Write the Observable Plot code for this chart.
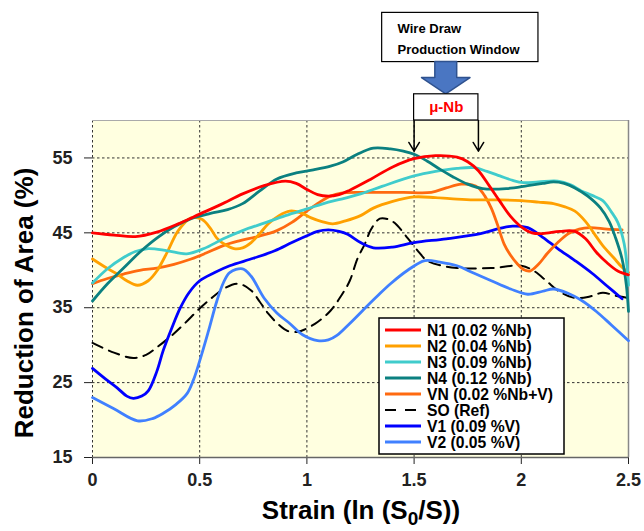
<!DOCTYPE html>
<html><head><meta charset="utf-8">
<script src="https://cdn.jsdelivr.net/npm/d3@7"></script>
<script src="https://cdn.jsdelivr.net/npm/@observablehq/plot@0.6"></script>
<style>
body{margin:0;background:#fff;}
#chart svg{display:block;}
</style></head><body><div id="chart"></div>
<script>
// ---- data: [strain, reduction of area %] ----
const N1 = [[0,45],[0.1,44.7],[0.2,44.5],[0.3,45.1],[0.4,46.2],[0.5,47.5],[0.6,48.8],[0.7,50.2],[0.8,51.3],[0.9,51.9],[0.95,51.6],[1.0,50.8],[1.05,50.1],[1.1,49.9],[1.15,50.1],[1.2,50.7],[1.3,52.2],[1.4,53.8],[1.5,54.9],[1.6,55.3],[1.7,55.1],[1.75,54.5],[1.8,53.3],[1.85,51.3],[1.9,49.2],[1.95,47.2],[2.0,45.8],[2.05,45.0],[2.1,44.9],[2.18,45.2],[2.25,45.2],[2.3,44.2],[2.35,42.4],[2.4,41.0],[2.45,39.9],[2.5,39.4]];
const N2 = [[0,41.5],[0.06,40.4],[0.115,39.5],[0.16,38.6],[0.21,38.0],[0.26,38.6],[0.3,39.9],[0.35,42.5],[0.4,45.3],[0.46,47.0],[0.51,46.8],[0.55,45.6],[0.58,44.3],[0.62,43.4],[0.66,42.9],[0.7,43.0],[0.74,43.7],[0.78,44.9],[0.82,46.2],[0.87,47.3],[0.92,47.9],[0.97,47.7],[1.02,47.0],[1.07,46.5],[1.12,46.2],[1.18,46.6],[1.25,47.3],[1.31,48.3],[1.4,49.2],[1.5,49.8],[1.6,49.7],[1.7,49.5],[1.78,49.4],[1.9,49.4],[2.0,49.3],[2.08,49.1],[2.15,48.9],[2.2,48.5],[2.25,47.9],[2.3,46.5],[2.34,44.9],[2.38,43.3],[2.43,41.7],[2.47,40.4],[2.5,39.7]];
const N3 = [[0,38.3],[0.07,40.2],[0.145,41.7],[0.2,42.5],[0.26,42.9],[0.35,42.6],[0.44,42.2],[0.52,42.9],[0.61,44.2],[0.7,45.3],[0.8,46.3],[0.9,47.3],[1.0,48.2],[1.1,49.1],[1.16,49.5],[1.25,50.2],[1.35,51.2],[1.5,52.6],[1.6,53.2],[1.7,53.6],[1.78,53.7],[1.84,53.2],[1.9,52.6],[1.96,52.0],[2.01,51.7],[2.08,51.8],[2.17,51.9],[2.23,51.4],[2.28,50.6],[2.33,50.0],[2.38,49.3],[2.42,47.8],[2.45,46.4],[2.48,43.5],[2.5,38]];
const N4 = [[0,35.9],[0.07,38.2],[0.145,40.3],[0.22,42.4],[0.3,44.3],[0.38,45.8],[0.46,46.9],[0.55,47.6],[0.63,48.1],[0.7,48.9],[0.78,50.6],[0.86,52.2],[0.95,53.0],[1.03,53.4],[1.11,53.9],[1.17,54.5],[1.235,55.5],[1.31,56.3],[1.39,56.2],[1.45,55.9],[1.5,55.5],[1.56,54.6],[1.62,53.5],[1.68,52.5],[1.75,51.5],[1.82,50.9],[1.93,50.9],[2.03,51.3],[2.1,51.6],[2.15,51.8],[2.2,51.6],[2.25,51.0],[2.31,49.9],[2.37,48.3],[2.41,46.5],[2.44,44.3],[2.47,41.5],[2.49,38],[2.5,34.5]];
const VN = [[0,38.2],[0.07,38.9],[0.145,39.5],[0.22,40.0],[0.3,40.3],[0.38,40.8],[0.46,41.5],[0.53,42.3],[0.61,43.3],[0.68,43.9],[0.77,44.5],[0.86,45.3],[0.93,46.4],[1.0,47.9],[1.06,49.1],[1.11,49.9],[1.16,50.3],[1.25,50.4],[1.35,50.4],[1.45,50.4],[1.58,50.4],[1.65,51.0],[1.72,51.5],[1.77,51.4],[1.8,51.0],[1.83,49.9],[1.86,48.3],[1.89,46.0],[1.92,43.5],[1.95,42.0],[1.98,40.9],[2.01,40.1],[2.04,39.9],[2.08,40.8],[2.12,42.2],[2.17,43.7],[2.22,44.9],[2.27,45.5],[2.32,45.7],[2.4,45.5],[2.47,45.4]];
const SO = [[0,30.3],[0.1,29.0],[0.19,28.3],[0.25,28.7],[0.3,29.7],[0.37,31.3],[0.43,32.9],[0.5,34.9],[0.56,36.4],[0.61,37.5],[0.68,38.2],[0.74,37.3],[0.78,35.8],[0.82,34.2],[0.87,32.7],[0.91,31.9],[0.96,31.8],[0.99,32.1],[1.05,33.1],[1.11,34.6],[1.16,36.6],[1.2,38.6],[1.235,41.5],[1.27,43.5],[1.3,45.5],[1.34,46.9],[1.38,46.8],[1.41,46.3],[1.47,44.3],[1.52,42.5],[1.56,41.3],[1.63,40.6],[1.7,40.3],[1.86,40.3],[2.0,40.6],[2.06,39.9],[2.12,38.5],[2.17,37.3],[2.25,36.3],[2.32,36.5],[2.38,37.0],[2.44,36.6],[2.5,36.3]];
const V1 = [[0,26.9],[0.06,25.5],[0.115,24.3],[0.16,23.2],[0.19,22.9],[0.23,23.2],[0.26,23.9],[0.3,26.5],[0.33,29.3],[0.37,32.3],[0.41,35.0],[0.45,37.0],[0.5,38.6],[0.57,39.7],[0.64,40.6],[0.75,41.6],[0.85,42.6],[0.93,43.7],[1.0,44.6],[1.05,45.2],[1.1,45.4],[1.15,45.2],[1.19,44.8],[1.25,43.7],[1.31,43.0],[1.4,43.1],[1.5,43.7],[1.65,44.2],[1.81,44.9],[1.9,45.6],[1.96,45.9],[2.03,45.7],[2.1,44.4],[2.17,42.9],[2.25,41.3],[2.33,39.6],[2.4,37.9],[2.47,36.2]];
const V2 = [[0,23.0],[0.1,21.5],[0.21,19.9],[0.28,20.2],[0.33,20.9],[0.39,22.1],[0.44,23.5],[0.47,25.3],[0.5,27.9],[0.54,31.8],[0.58,35.9],[0.61,38.3],[0.64,39.7],[0.7,40.2],[0.74,39.2],[0.8,36.3],[0.86,34.3],[0.92,32.9],[0.98,31.4],[1.05,30.6],[1.1,30.7],[1.14,31.3],[1.2,32.9],[1.28,35.2],[1.33,36.6],[1.39,38.2],[1.47,40.0],[1.55,41.3],[1.62,41.1],[1.7,40.6],[1.78,39.6],[1.86,38.6],[1.95,37.5],[2.03,36.8],[2.1,37.2],[2.15,37.5],[2.22,36.9],[2.28,36.0],[2.35,34.5],[2.42,32.7],[2.5,30.6]];

const seriesKeys   = ["N1","N2","N3","N4","VN","SO","V1","V2"];
const seriesLabels = ["N1 (0.02 %Nb)","N2 (0.04 %Nb)","N3 (0.09 %Nb)","N4 (0.12 %Nb)","VN (0.02 %Nb+V)","SO (Ref)","V1 (0.09 %V)","V2 (0.05 %V)"];
const seriesData   = [N1, N2, N3, N4, VN, SO, V1, V2];
const seriesColors = ["#FF0000","#FFA000","#40CCCC","#0B8080","#FF6A10","#000000","#0000FF","#4080FF"];

const xTicks = [0, 0.5, 1, 1.5, 2, 2.5];
const yTicks = [15, 25, 35, 45, 55];
const xGrid = [0, 0.5, 1, 1.5, 2];
const yGrid = [25, 35, 45, 55];

// production window annotation (strain range)
const windowStrain = [1.5, 1.8];
const windowLabel = "\u03bc-Nb";
const wireLabel = ["Wire Draw", "Production Window"];

const FONT = "'Liberation Sans', Arial, sans-serif";

// build long table
const table = [];
seriesKeys.forEach((k, i) => seriesData[i].forEach(([s, r]) => table.push({series: k, strain: s, ra: r})));

const wMid = (windowStrain[0] + windowStrain[1]) / 2;
const muBox = [{x1: windowStrain[0], x2: windowStrain[1], y1: 60, y2: 63.5}];
const wireBox = [{x1: 1.351, x2: 2.08, y1: 67.8, y2: 74.37}];
const wireText = [{x: 1.423, y: 72.3, t: wireLabel[0]}, {x: 1.423, y: 69.5, t: wireLabel[1]}];
const blockArrow = [
  {y: 67.8, a: wMid - 0.051, b: wMid + 0.051},
  {y: 65.67, a: wMid - 0.051, b: wMid + 0.051},
  {y: 65.67, a: wMid - 0.113, b: wMid + 0.113},
  {y: 63.5, a: wMid, b: wMid}
];

const order = ["SO","V2","V1","VN","N2","N3","N4","N1"];
const lineMarks = order.map(k => {
  const i = seriesKeys.indexOf(k);
  return Plot.line(table.filter(d => d.series === k), {
    x: "strain", y: "ra", stroke: seriesColors[i],
    strokeWidth: k === "SO" ? 2 : 2.8,
    strokeDasharray: k === "SO" ? "11,7" : null,
    curve: "catmull-rom"
  });
});

const chart = Plot.plot({
  width: 644, height: 531,
  marginLeft: 92, marginRight: 16, marginTop: 120, marginBottom: 74,
  style: {fontFamily: FONT, fontWeight: "bold", fontSize: "18px", background: "white", color: "#222", overflow: "visible"},
  x: {domain: [0, 2.5], ticks: xTicks, tickFormat: d => String(d), tickSize: 7, tickPadding: 9, label: null},
  y: {domain: [15, 60], ticks: yTicks, tickSize: 8, tickPadding: 12, label: null},
  marks: [
    Plot.frame({fill: "#FFFFE0", stroke: null}),
    Plot.ruleX(xGrid, {stroke: "#333", strokeWidth: 1, strokeDasharray: "2.5,2.5"}),
    Plot.ruleY(yGrid, {stroke: "#333", strokeWidth: 1, strokeDasharray: "2.5,2.5"}),
    Plot.ruleY([60], {stroke: "#aaa", strokeWidth: 1.2}),
    Plot.ruleX([2.5], {stroke: "#888", strokeWidth: 1.5}),
    Plot.ruleY([15], {stroke: "#666", strokeWidth: 1.5}),
    ...lineMarks,
    // annotation
    Plot.rect(wireBox, {x1: "x1", x2: "x2", y1: "y1", y2: "y2", fill: "white", stroke: "black", strokeWidth: 1.2}),
    Plot.text(wireText, {x: "x", y: "y", text: "t", textAnchor: "start", fontSize: 13, fill: "black"}),
    Plot.areaX(blockArrow, {y: "y", x1: "a", x2: "b", fill: "#4a76c2", stroke: "#2F528F", strokeWidth: 1.5, curve: "linear"}),
    Plot.rect(muBox, {x1: "x1", x2: "x2", y1: "y1", y2: "y2", fill: "white", stroke: "black", strokeWidth: 1.2}),
    Plot.text([windowLabel], {x: () => wMid, y: () => 61.75, text: d => d, fill: "red", fontSize: 15}),
    Plot.arrow(windowStrain, {x1: d => d, x2: d => d, y1: () => 60, y2: () => 55.9, stroke: "black", strokeWidth: 1.5, headLength: 13, headAngle: 62})
  ]
});

document.getElementById("chart").appendChild(chart);

// axis titles and legend
const svg = d3.select(chart);
svg.append("text")
  .attr("transform", "translate(24,303) rotate(-90)")
  .attr("text-anchor", "middle").attr("dy", "0.35em")
  .attr("font-size", 26).attr("font-weight", "bold").attr("font-family", FONT).attr("fill", "black")
  .text("Reduction of Area (%)");
const xt = svg.append("text")
  .attr("x", 361).attr("y", 519)
  .attr("text-anchor", "middle")
  .attr("font-size", 26).attr("font-weight", "bold").attr("font-family", FONT).attr("fill", "black");
xt.append("tspan").text("Strain (ln (S");
xt.append("tspan").attr("font-size", 19).attr("dy", 6).text("0");
xt.append("tspan").attr("dy", -6).text("/S))");

const lg = svg.append("g").attr("text-anchor", "start");
lg.append("rect").attr("x", 379).attr("y", 318).attr("width", 185).attr("height", 136)
  .attr("fill", "white").attr("stroke", "black").attr("stroke-width", 1.5);
seriesKeys.forEach((k, i) => {
  const yy = 330 + i * 16;
  lg.append("line").attr("x1", 385).attr("x2", 421).attr("y1", yy).attr("y2", yy)
    .attr("stroke", seriesColors[i]).attr("stroke-width", k === "SO" ? 2 : 3)
    .attr("stroke-dasharray", k === "SO" ? "11,9" : null);
  lg.append("text").attr("x", 427).attr("y", yy).attr("dy", "0.36em")
    .attr("text-anchor", "start")
    .attr("font-size", 15.7).attr("font-weight", "bold").attr("font-family", FONT).attr("fill", "black")
    .text(seriesLabels[i]);
});
</script></body></html>
